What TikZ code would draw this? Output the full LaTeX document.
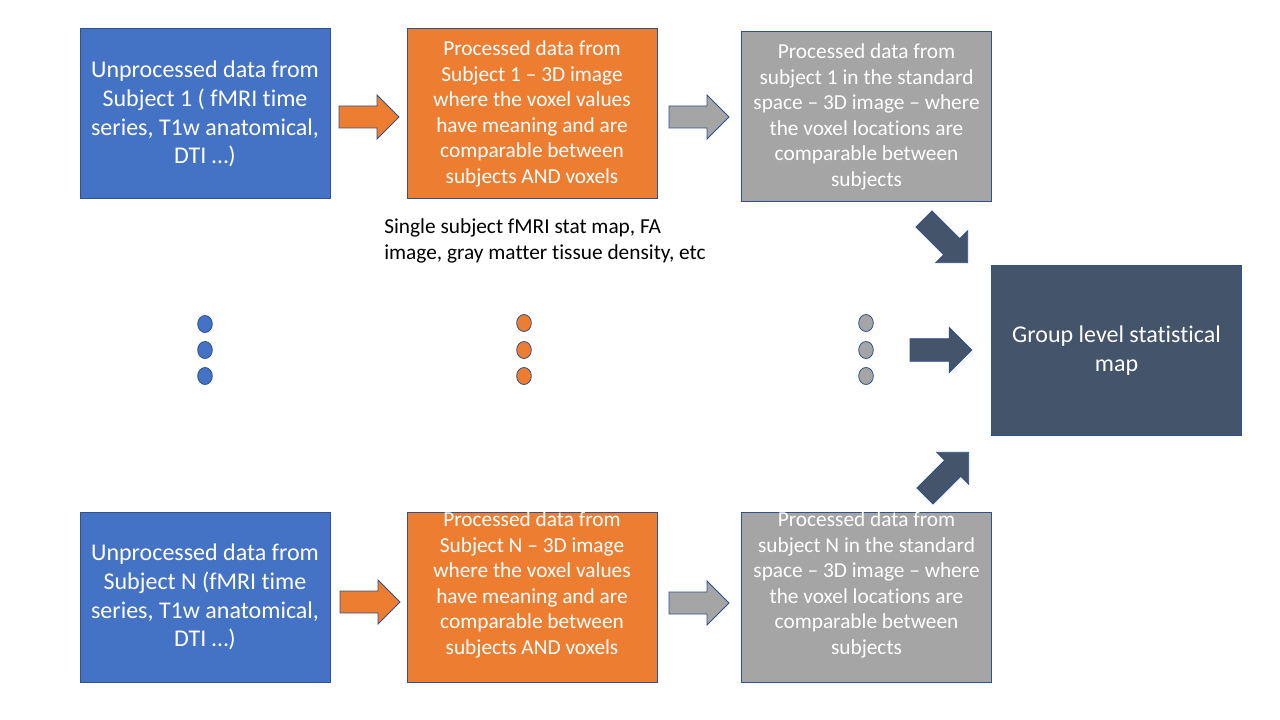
\documentclass[tikz,border=0pt]{standalone}
\usepackage{fontspec}
\setmainfont{Carlito}[Ligatures=NoCommon]
\usepackage{tikz}
\definecolor{boxblue}{HTML}{4472C4}
\definecolor{boxorng}{HTML}{ED7D31}
\definecolor{boxgray}{HTML}{A5A5A5}
\definecolor{boxdark}{HTML}{44546A}
\definecolor{boxedge}{HTML}{2F528F}
\tikzset{
  databox/.style={draw=boxedge,line width=0.75pt,minimum width=187.5pt,minimum height=127.5pt,inner sep=0pt},
  boxtext/.style={text=white,align=center,inner sep=0pt},
  bigfont/.style={font=\fontsize{18}{21.6}\selectfont},
  smallfont/.style={font=\fontsize{16}{19.2}\selectfont},
  dot/.style={draw=boxedge,line width=0.6pt,ellipse,minimum width=11pt,minimum height=12.75pt,inner sep=0pt},
  blockarrow/.pic={\filldraw[pic actions] (0,-11) -- (38,-11) -- (38,-22) -- (60,0) -- (38,22) -- (38,11) -- (0,11) -- cycle;}
}
\usetikzlibrary{shapes.geometric}
\begin{document}
\begin{tikzpicture}[x=0.75pt,y=-0.75pt]
  \useasboundingbox (0,0) rectangle (1280,720);
  % subject 1
  \node[databox,fill=boxblue,boxtext,bigfont] (blue1) at (205,114) {Unprocessed data from\\Subject 1 ( fMRI time\\series, T1w anatomical,\\DTI …)};
  \node[databox,fill=boxorng,boxtext,smallfont] (orng1) at (532,114) {Processed data from\\Subject 1 – 3D image\\where the voxel values\\have meaning and are\\comparable between\\subjects AND voxels};
  \node[databox,fill=boxgray,boxtext,smallfont] (gray1) at (866.5,117) {Processed data from\\subject 1 in the standard\\space – 3D image – where\\the voxel locations are\\comparable between\\subjects};
  \node[anchor=west,align=left,inner sep=0pt,smallfont] (note) at (384,241) {Single subject fMRI stat map, FA\\image, gray matter tissue density, etc};
  % subject N
  \node[databox,fill=boxblue,boxtext,bigfont] (blueN) at (205,597) {Unprocessed data from\\Subject N (fMRI time\\series, T1w anatomical,\\DTI …)};
  \node[databox,fill=boxorng] (orngN) at (532,597) {};
  \node[boxtext,smallfont] (orngNtext) at (532,585) {Processed data from\\Subject N – 3D image\\where the voxel values\\have meaning and are\\comparable between\\subjects AND voxels};
  \node[databox,fill=boxgray] (grayN) at (866.5,597) {};
  \node[boxtext,smallfont] (grayNtext) at (866.5,585) {Processed data from\\subject N in the standard\\space – 3D image – where\\the voxel locations are\\comparable between\\subjects};
  % group
  \node[databox,fill=boxdark,boxtext,bigfont] (group) at (1116.5,350.5) {Group level statistical\\map};
  % dots
  \node[dot,fill=boxblue] (bdot1) at (205,324) {};
  \node[dot,fill=boxblue] (bdot2) at (205,350) {};
  \node[dot,fill=boxblue] (bdot3) at (205,376) {};
  \node[dot,fill=boxorng] (odot1) at (524,323) {};
  \node[dot,fill=boxorng] (odot2) at (524,350) {};
  \node[dot,fill=boxorng] (odot3) at (524,376) {};
  \node[dot,fill=boxgray] (gdot1) at (866,323) {};
  \node[dot,fill=boxgray] (gdot2) at (866,350) {};
  \node[dot,fill=boxgray] (gdot3) at (866,376) {};
  % arrows
  \pic[fill=boxorng,draw=boxedge,line width=0.6pt] at (339,117) {blockarrow};
  \pic[fill=boxgray,draw=boxedge,line width=0.6pt] at (669,117) {blockarrow};
  \pic[fill=boxorng,draw=boxedge,line width=0.6pt] at (340,602) {blockarrow};
  \pic[fill=boxgray,draw=boxedge,line width=0.6pt] at (669,603) {blockarrow};
  \pic[fill=boxdark,draw=boxedge,line width=0.6pt,scale=1.03] at (910,350) {blockarrow};
  \pic[fill=boxdark,draw=boxedge,line width=0.6pt,scale=1.03,rotate=-45] at (924,219) {blockarrow};
  \pic[fill=boxdark,draw=boxedge,line width=0.6pt,scale=1.03,rotate=45] at (925,496) {blockarrow};
\end{tikzpicture}
\end{document}
